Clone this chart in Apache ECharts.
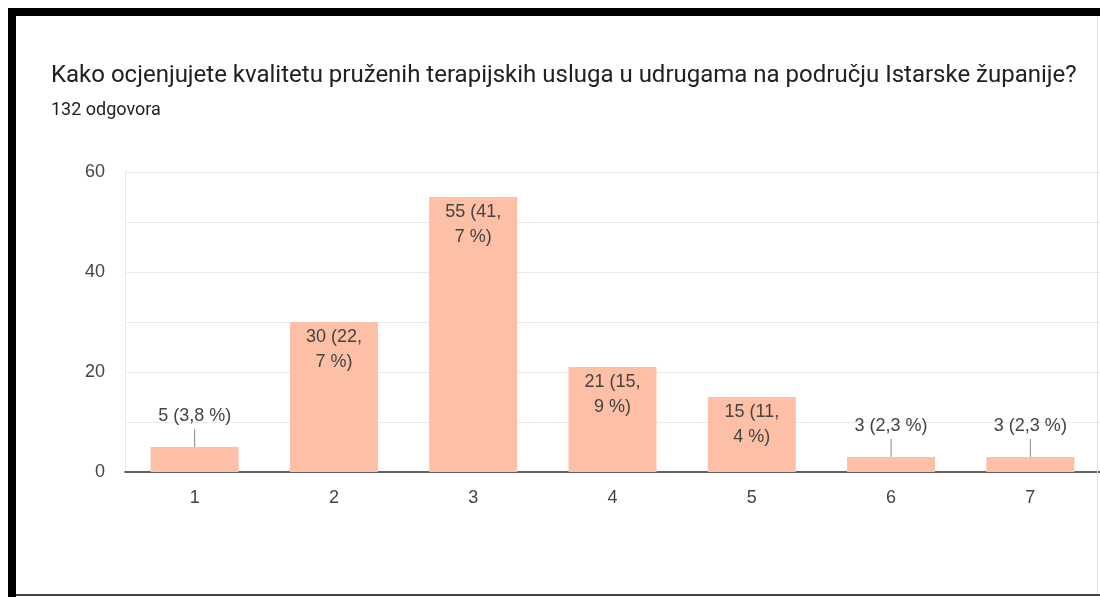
<!DOCTYPE html>
<html>
<head>
<meta charset="utf-8">
<script src="https://cdn.jsdelivr.net/npm/echarts@6/dist/echarts.min.js"></script>
<style>
html,body{margin:0;padding:0;background:#fff;}
#c{width:1100px;height:597px;}
</style>
</head>
<body>
<div id="c"></div>
<script>
const categories = ['1', '2', '3', '4', '5', '6', '7'];
const counts = [5, 30, 55, 21, 15, 3, 3];
const percents = ['3,8', '22,7', '41,7', '15,9', '11,4', '2,3', '2,3'];
const yTicks = [0, 20, 40, 60];

const chart = echarts.init(document.getElementById('c'), null, {renderer: 'canvas'});

const BAR_COLOR = '#FDBFA5';
const data = counts.map((v, i) => {
  const small = v < 10;
  const item = {value: v};
  if (small) {
    item.label = {
      position: 'top',
      distance: 6,
      formatter: v + ' (' + percents[i] + ' %)'
    };
    item.labelLine = {show: true, lineStyle: {color: '#888', width: 1}};
  } else {
    const parts = percents[i].split(',');
    item.label = {
      position: 'insideTop',
      distance: 3,
      formatter: v + ' (' + parts[0] + ',\n' + parts[1] + ' %)'
    };
  }
  return item;
});

chart.setOption({
  animation: false,
  backgroundColor: '#fff',
  textStyle: {fontFamily: 'Roboto, Arial, sans-serif'},
  title: [
    {
      text: 'Kako ocjenjujete kvalitetu pruženih terapijskih usluga u udrugama na području Istarske županije?',
      left: 51, top: 64, padding: 0,
      textStyle: {fontFamily: 'Roboto', fontSize: 24, fontWeight: 'normal', color: '#212121'}
    },
    {
      text: '132 odgovora',
      left: 51, top: 101, padding: 0,
      textStyle: {fontFamily: 'Roboto', fontSize: 18, fontWeight: 'normal', color: '#212121'}
    }
  ],
  grid: {left: 125, top: 172, width: 978, height: 300, containLabel: false},
  xAxis: {
    type: 'category',
    data: categories,
    axisLine: {show: true, lineStyle: {color: '#333', width: 1.5}},
    axisTick: {show: false},
    axisLabel: {margin: 17, fontSize: 18, color: '#444', fontFamily: 'Liberation Sans, Arial, sans-serif'}
  },
  yAxis: {
    type: 'value',
    min: 0, max: 60, interval: 10,
    axisLine: {show: true, lineStyle: {color: '#e6e6e6'}},
    axisTick: {show: false},
    splitLine: {lineStyle: {color: '#ebebeb', width: 1}},
    axisLabel: {
      margin: 20, fontSize: 18, color: '#444',
      fontFamily: 'Liberation Sans, Arial, sans-serif',
      formatter: (val) => yTicks.indexOf(val) >= 0 ? String(val) : ''
    }
  },
  series: [{
    type: 'bar',
    data: data,
    barWidth: 88,
    itemStyle: {color: BAR_COLOR},
    label: {
      show: true,
      fontSize: 18,
      lineHeight: 25,
      color: '#444',
      fontFamily: 'Liberation Sans, Arial, sans-serif'
    },
    labelLayout: function (params) {
      return counts[params.dataIndex] < 10 ? {dy: -12} : {};
    }
  }],
  graphic: [
    {type: 'rect', shape: {x: 8, y: 8, width: 1092, height: 8}, style: {fill: '#000'}, z: 100},
    {type: 'rect', shape: {x: 8, y: 8, width: 8, height: 589}, style: {fill: '#000'}, z: 100},
    {type: 'rect', shape: {x: 16, y: 594, width: 1084, height: 2}, style: {fill: '#444'}, z: 100},
    {type: 'rect', shape: {x: 1097, y: 16, width: 1, height: 578}, style: {fill: '#e4e4e4'}, z: 100}
  ]
});
</script>
</body>
</html>
